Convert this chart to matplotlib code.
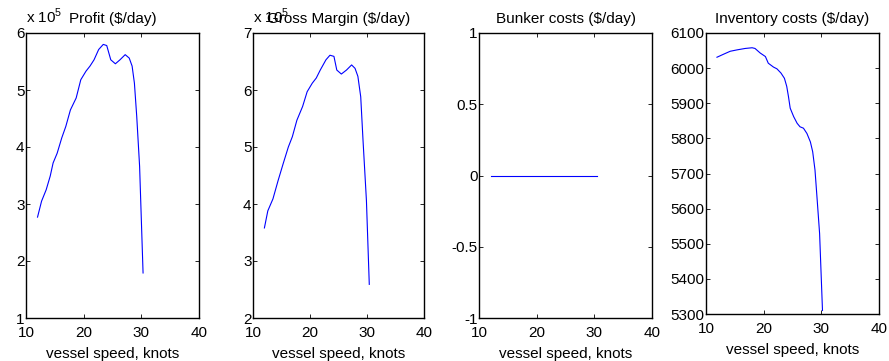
import matplotlib
matplotlib.use("Agg")
import matplotlib.pyplot as plt
from matplotlib.transforms import offset_copy
import numpy as np

plt.rcParams['font.family'] = ['Liberation Sans', 'DejaVu Sans']
plt.rcParams['font.size'] = 11
plt.rcParams['mathtext.fontset'] = 'custom'
plt.rcParams['mathtext.rm'] = 'Liberation Sans'

# Profit (x 1e5 $/day)
profit_speed = [12.0, 12.7, 13.5, 14.2, 14.7, 15.4, 16.2, 16.9, 17.7, 18.7, 19.5, 20.4, 21.1,
                21.8, 22.6, 23.4, 24.0, 24.7, 25.5, 26.3, 27.2, 27.9, 28.4, 28.8, 29.2, 29.7, 30.3]
profit_vals = [2.77, 3.05, 3.25, 3.49, 3.72, 3.89, 4.16, 4.36, 4.65, 4.86, 5.18, 5.33, 5.42,
               5.53, 5.71, 5.80, 5.78, 5.53, 5.46, 5.53, 5.62, 5.56, 5.42, 5.12, 4.54, 3.66, 1.79]

# Gross margin (x 1e5 $/day)
gm_speed = [12.0, 12.6, 13.5, 14.4, 15.3, 16.2, 16.9, 17.7, 18.7, 19.5, 20.4, 21.1, 21.8,
            22.8, 23.5, 24.2, 24.7, 25.5, 26.4, 27.3, 27.9, 28.4, 28.9, 29.3, 29.9, 30.4]
gm_vals = [3.58, 3.88, 4.09, 4.41, 4.71, 5.00, 5.18, 5.47, 5.71, 5.97, 6.12, 6.21, 6.35,
           6.53, 6.61, 6.59, 6.35, 6.28, 6.35, 6.44, 6.38, 6.24, 5.88, 5.12, 4.06, 2.59]

# Bunker costs ($/day)
bunker_speed = [12.0, 30.4]
bunker_vals = [0.0, 0.0]

# Inventory costs ($/day)
inv_speed = [11.9, 13.1, 14.2, 15.4, 16.8, 18.0, 18.5, 19.4, 20.3, 20.8, 21.7, 22.3, 23.0, 23.6,
             24.0, 24.3, 24.6, 25.2, 25.8, 26.3, 26.9, 27.5, 28.1, 28.5, 28.9, 29.2, 29.7, 30.2]
inv_vals = [6031, 6040, 6048, 6052, 6056, 6058, 6056, 6043, 6033, 6014, 6003, 5998, 5986, 5971,
            5948, 5919, 5886, 5862, 5843, 5833, 5829, 5814, 5790, 5762, 5710, 5643, 5529, 5310]

titles = ['Profit ($/day)', 'Gross Margin ($/day)', 'Bunker costs ($/day)', 'Inventory costs ($/day)']
xlabel = 'vessel speed, knots'

fig = plt.figure(figsize=(8.89, 3.61), dpi=100)
W, H = 889, 361

def make_ax(l, r, t, b):
    return fig.add_axes([l / W, 1 - b / H, (r - l) / W, (b - t) / H])

axes = [make_ax(26, 199, 33, 318), make_ax(253, 424, 33, 318),
        make_ax(479, 652, 33, 318), make_ax(706, 879, 33, 314)]

data = [(profit_speed, profit_vals), (gm_speed, gm_vals),
        (bunker_speed, bunker_vals), (inv_speed, inv_vals)]
ylims = [(1, 6), (2, 7), (-1, 1), (5300, 6100)]
yticks = [np.arange(1, 7, 1), np.arange(2, 8, 1), [-1, -0.5, 0, 0.5, 1],
          np.arange(5300, 6101, 100)]
yticklabels = [None, None, ['-1', '-0.5', '0', '0.5', '1'], None]

for i, ax in enumerate(axes):
    x, y = data[i]
    ax.plot(x, y, color='blue', lw=0.8)
    ax.set_xlim(10, 40)
    ax.set_ylim(*ylims[i])
    ax.set_xticks([10, 20, 30, 40])
    ax.set_yticks(yticks[i])
    if yticklabels[i] is not None:
        ax.set_yticklabels(yticklabels[i])
    ax.tick_params(direction='in', top=True, right=True, length=3, width=0.6,
                   labelsize=11, color='black')
    ax.tick_params(axis='x', pad=6)
    ax.tick_params(axis='y', pad=1)
    for s in ax.spines.values():
        s.set_linewidth(1.0)
    ax.set_xlabel(xlabel, fontsize=11, labelpad=5)
    ax.set_title(titles[i], fontsize=11, pad=7)

for ax in axes[:2]:
    tr = offset_copy(ax.transAxes, fig=fig, x=0, y=10, units='dots')
    ax.text(0.0, 1.0, r'x 10$^{5}$', transform=tr, fontsize=11,
            ha='left', va='baseline')

fig.savefig('out.png', dpi=100)
